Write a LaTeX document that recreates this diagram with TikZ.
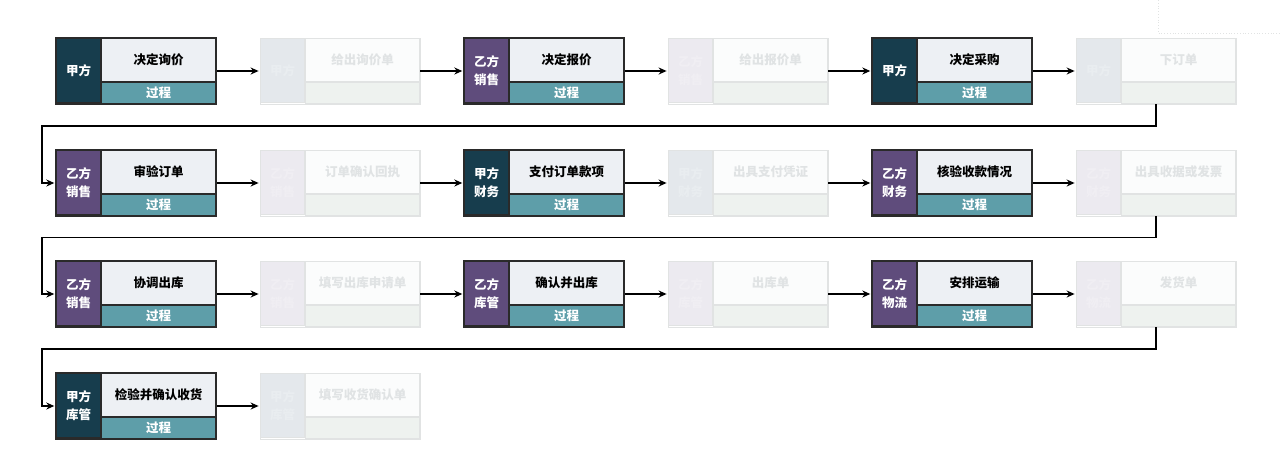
\documentclass[tikz,border=0pt]{standalone}
\usepackage{fontspec}
\setmainfont{Noto Sans CJK SC}
\usetikzlibrary{arrows.meta,fit,positioning}

\definecolor{jia}{HTML}{173D4D}
\definecolor{yi}{HTML}{5F4C7C}
\definecolor{paper}{HTML}{EDF0F4}
\definecolor{teal}{HTML}{5E9EA9}
\definecolor{edgeline}{HTML}{2A2A2A}
\definecolor{fadejia}{HTML}{E4E8EC}
\definecolor{fadeyi}{HTML}{ECEAF0}
\definecolor{fadepaper}{HTML}{FBFCFC}
\definecolor{fadefoot}{HTML}{EEF2EF}
\definecolor{fadeline}{HTML}{E1E3E3}
\definecolor{fadetext}{HTML}{E0E3E4}

\tikzstyle{cardfont} = [font=\bfseries\fontsize{12.5pt}{18pt}\selectfont]
\tikzstyle{role} = [rectangle,
                   cardfont,
                   anchor=north west,
                   minimum width=44pt,
                   minimum height=64pt,
                   inner sep=0pt,
                   align=center,
                   text=white,
                   draw=edgeline,
                   line width=1pt]
\tikzstyle{jiarole} = [role, fill=jia]
\tikzstyle{yirole} = [role, fill=yi]
\tikzstyle{cardtitle} = [rectangle,
                        cardfont,
                        anchor=north west,
                        minimum width=114pt,
                        minimum height=43pt,
                        inner sep=0pt,
                        fill=paper,
                        draw=edgeline,
                        line width=1pt]
\tikzstyle{cardfoot} = [cardtitle,
                       minimum height=21pt,
                       fill=teal,
                       text=white]
\tikzstyle{cardframe} = [rectangle,
                        inner sep=0pt,
                        draw=edgeline,
                        line width=1.4pt]
% faded cards
\tikzstyle{ghostjia} = [role, fill=fadejia, draw=fadeline, text=fadejia!80!white]
\tikzstyle{ghostyi} = [role, fill=fadeyi, draw=fadeline, text=fadeyi!80!white]
\tikzstyle{ghosttitle} = [cardtitle, fill=fadepaper, draw=fadeline, text=fadetext]
\tikzstyle{ghostfoot} = [cardfoot, fill=fadefoot, draw=fadeline]
\tikzstyle{ghostframe} = [cardframe, draw=fadeline, line width=0.8pt]
\tikzstyle{chart} = [x=1pt,
                    y=-1pt,
                    >={Stealth[length=8pt,width=7pt]},
                    shorten >=1pt]
\tikzstyle{flow} = [->, line width=1.3pt, draw=black]

\newcommand{\card}[6]{%
  \node (#1r) at (#2,#3) [#4] {#5};
  \node (#1t) at (#1r.north east) [cardtitle] {#6};
  \node (#1f) at (#1t.south west) [cardfoot] {过程};
  \node (#1) [cardframe, fit=(#1r)(#1t)(#1f)] {};
}
\newcommand{\ghost}[6]{%
  \node (#1r) at (#2,#3) [#4] {#5};
  \node (#1t) at (#1r.north east) [ghosttitle] {#6};
  \node (#1f) at (#1t.south west) [ghostfoot] {};
  \node (#1) [ghostframe, fit=(#1r)(#1t)(#1f)] {};
}

\begin{document}
\begin{tikzpicture}[chart]
    \useasboundingbox (0,0) rectangle (1282,464);
    \draw[fadeline, dotted, line width=0.8pt] (1158,0) -- (1158,33) -- (1282,33);

    % row 1
    \card{c1}{56}{38}{jiarole}{甲方}{决定询价}
    \ghost{g1}{260}{38}{ghostjia}{甲方}{给出询价单}
    \card{c2}{464}{38}{yirole}{乙方\\销售}{决定报价}
    \ghost{g2}{668}{38}{ghostyi}{乙方\\销售}{给出报价单}
    \card{c3}{872}{38}{jiarole}{甲方}{决定采购}
    \ghost{g3}{1076}{38}{ghostjia}{甲方}{下订单}
    % row 2
    \card{c4}{56}{150}{yirole}{乙方\\销售}{审验订单}
    \ghost{g4}{260}{150}{ghostyi}{乙方\\销售}{订单确认回执}
    \card{c5}{464}{150}{jiarole}{甲方\\财务}{支付订单款项}
    \ghost{g5}{668}{150}{ghostjia}{甲方\\财务}{出具支付凭证}
    \card{c6}{872}{150}{yirole}{乙方\\财务}{核验收款情况}
    \ghost{g6}{1076}{150}{ghostyi}{乙方\\财务}{出具收据或发票}
    % row 3
    \card{c7}{56}{261}{yirole}{乙方\\销售}{协调出库}
    \ghost{g7}{260}{261}{ghostyi}{乙方\\销售}{填写出库申请单}
    \card{c8}{464}{261}{yirole}{乙方\\库管}{确认并出库}
    \ghost{g8}{668}{261}{ghostyi}{乙方\\库管}{出库单}
    \card{c9}{872}{261}{yirole}{乙方\\物流}{安排运输}
    \ghost{g9}{1076}{261}{ghostyi}{乙方\\物流}{发货单}
    % row 4
    \card{c10}{56}{373}{jiarole}{甲方\\库管}{检验并确认收货}
    \ghost{g10}{260}{373}{ghostjia}{甲方\\库管}{填写收货确认单}

    \coordinate (k1) at (42,126);
    \coordinate (k2) at (42,237.5);
    \coordinate (k3) at (42,349);

    \path[flow]
      (c1) edge (g1)  (g1) edge (c2)  (c2) edge (g2)  (g2) edge (c3)  (c3) edge (g3)
      (c4) edge (g4)  (g4) edge (c5)  (c5) edge (g5)  (g5) edge (c6)  (c6) edge (g6)
      (c7) edge (g7)  (g7) edge (c8)  (c8) edge (g8)  (g8) edge (c9)  (c9) edge (g9)
      (c10) edge (g10);
    \draw[flow] (g3) |- (k1) |- (c4);
    \draw[flow] (g6) |- (k2) |- (c7);
    \draw[flow] (g9) |- (k3) |- (c10);
  \end{tikzpicture}
\end{document}
